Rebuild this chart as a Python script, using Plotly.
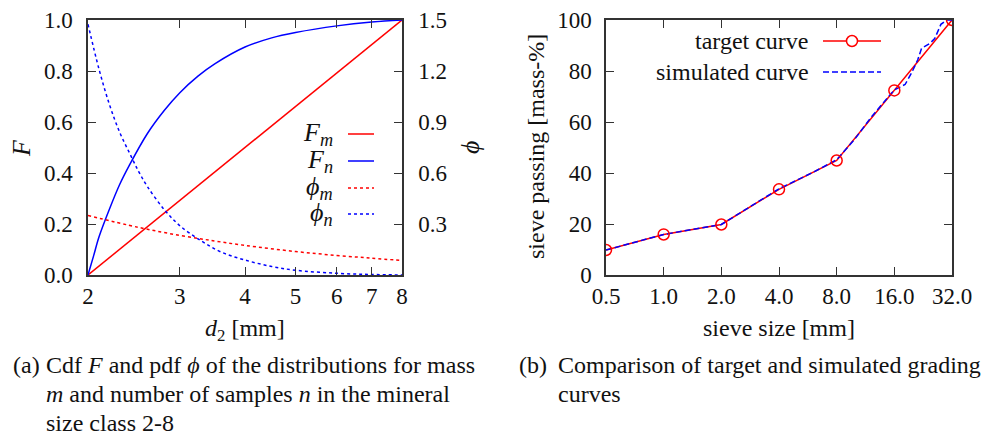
import plotly.graph_objects as go

# ---------------- data: panel (a) ----------------
d_Fm = [2, 3, 4, 5, 6, 7, 8]
F_m = [0.0, 0.2925, 0.5, 0.661, 0.792, 0.904, 1.0]

d_Fn = [2, 2.05, 2.1, 2.2, 2.3, 2.4, 2.6, 2.8, 3.0, 3.25, 3.5, 4.0, 4.5, 5.0, 6.0, 7.0, 8.0]
F_n = [0.0, 0.075, 0.15, 0.26, 0.355, 0.43, 0.555, 0.645, 0.715, 0.78, 0.828, 0.894, 0.93, 0.951, 0.977, 0.992, 1.0]

d_pm = [2, 2.5, 3, 3.5, 4, 5, 6, 7, 8]
phi_m = [0.35, 0.28, 0.233, 0.2, 0.174, 0.138, 0.115, 0.099, 0.085]

d_pn = [2, 2.1, 2.2, 2.3, 2.4, 2.5, 2.6, 2.8, 3.0, 3.3, 3.6, 4.0, 4.5, 5.0, 6.0, 7.0, 8.0]
phi_n = [1.475, 1.21, 1.0, 0.84, 0.72, 0.61, 0.52, 0.385, 0.29, 0.2, 0.135, 0.088, 0.05, 0.028, 0.01, 0.003, 0.0]

# ---------------- data: panel (b) ----------------
sieve_target = [0.5, 1, 2, 4, 8, 16, 32]
pass_target = [9.8, 15.9, 19.8, 33.6, 44.9, 72.4, 100]

sieve_sim = [0.5, 1, 2, 4, 6, 8, 10, 12, 14, 16, 17, 18.2, 19.7, 21.2, 22.2, 24.5, 26, 28, 30, 32]
pass_sim = [9.8, 15.9, 19.8, 33.8, 40.2, 45.2, 53.5, 61.5, 67.5, 72.6, 73.6, 74.7, 79.3, 84.4, 88.9, 90.8, 92.7, 98.3, 100, 100]

x_ticks_a = [2, 3, 4, 5, 6, 7, 8]
x_ticks_b = [0.5, 1, 2, 4, 8, 16, 32]
x_ticktext_b = ["0.5", "1.0", "2.0", "4.0", "8.0", "16.0", "32.0"]

RED = "#ff0000"
BLUE = "#0000ff"
FONT = "Liberation Serif"
AX = "#333333"
TXT = "#111111"

fig = go.Figure()

fig.add_trace(go.Scatter(x=d_Fm, y=F_m, mode="lines", line=dict(color=RED, width=1.5), xaxis="x", yaxis="y"))
fig.add_trace(go.Scatter(x=d_Fn, y=F_n, mode="lines", line=dict(color=BLUE, width=1.5, shape="spline"), xaxis="x", yaxis="y"))
fig.add_trace(go.Scatter(x=d_pm, y=phi_m, mode="lines", line=dict(color=RED, width=1.5, dash="3px,3px", shape="spline"), xaxis="x", yaxis="y2"))
fig.add_trace(go.Scatter(x=d_pn, y=phi_n, mode="lines", line=dict(color=BLUE, width=1.5, dash="3px,3px", shape="spline"), xaxis="x", yaxis="y2"))

fig.add_trace(go.Scatter(x=sieve_target, y=pass_target, mode="lines", line=dict(color=RED, width=1.5), xaxis="x2", yaxis="y3"))
fig.add_trace(go.Scatter(x=sieve_sim, y=pass_sim, mode="lines", line=dict(color=BLUE, width=1.5, dash="6px,3px"), xaxis="x2", yaxis="y3"))
fig.add_trace(go.Scatter(x=sieve_target, y=pass_target, mode="markers",
                         marker=dict(symbol="circle-open", size=11, color=RED, line=dict(width=1.5, color=RED)),
                         xaxis="x2", yaxis="y3"))

W, H = 993, 440
OFF = 8  # page body margin of the browser
def px(v): return (v - OFF) / W
def py(v): return 1 - (v - OFF) / H

TOP = 20
BOT = 275

ax_common = dict(showline=True, linecolor=AX, linewidth=1.5, ticks="inside", ticklen=8, tickwidth=1.2,
                 tickcolor=AX, showgrid=False, zeroline=False, automargin=False,
                 tickfont=dict(family=FONT, size=23, color=TXT))

fig.update_layout(
    template="none",
    width=W, height=H, margin=dict(l=0, r=0, t=0, b=0, pad=0),
    paper_bgcolor="white", plot_bgcolor="white", showlegend=False,
    xaxis=dict(domain=[px(88), px(402)], type="log", range=[0.30103, 0.90309], tickvals=x_ticks_a,
               ticktext=[str(v) for v in x_ticks_a], mirror="ticks", anchor="y", **ax_common),
    yaxis=dict(domain=[py(BOT), py(TOP)], range=[0, 1], tickvals=[0, 0.2, 0.4, 0.6, 0.8, 1.0],
               ticktext=["0.0", "0.2", "0.4", "0.6", "0.8", "1.0"], anchor="x", ticklabelstandoff=9,
               **ax_common),
    yaxis2=dict(domain=[py(BOT), py(TOP)], range=[0, 1.5], overlaying="y", side="right", anchor="x",
                tickvals=[0.3, 0.6, 0.9, 1.2, 1.5], ticktext=["0.3", "0.6", "0.9", "1.2", "1.5"],
                ticklabelstandoff=10, **ax_common),
    xaxis2=dict(domain=[px(606), px(952)], type="log", range=[-0.30103, 1.50515], tickvals=x_ticks_b,
                ticktext=x_ticktext_b, mirror="ticks", anchor="y3", **ax_common),
    yaxis3=dict(domain=[py(BOT), py(TOP)], range=[0, 100], tickvals=[0, 20, 40, 60, 80, 100],
                mirror="ticks", anchor="x2", ticklabelstandoff=8, **ax_common),
)

def ann(text, x, y, size=24, xanchor="center", yanchor="middle", angle=0, align="left"):
    fig.add_annotation(text=text, x=px(x), y=py(y), xref="paper", yref="paper", showarrow=False,
                       xanchor=xanchor, yanchor=yanchor, textangle=angle, align=align, borderpad=0,
                       font=dict(family=FONT, size=size, color=TXT))

# axis titles
ann("<i>F</i>", 22, 148, size=26, angle=-90)
ann("<i>ϕ</i>", 471, 148, size=26, angle=-90)
ann("<i>d</i><sub>2</sub> [mm]", 245, 330, size=24)
ann("sieve passing [mass-%]", 536, 147, size=24, angle=-90)
ann("sieve size [mm]", 779, 328, size=24)

# legend panel (a)
leg_a = [("<i>F<sub>m</sub></i>", RED, "solid", 134),
         ("<i>F<sub>n</sub></i>", BLUE, "solid", 161),
         ("<i>ϕ<sub>m</sub></i>", RED, "3px,3px", 188),
         ("<i>ϕ<sub>n</sub></i>", BLUE, "3px,3px", 214)]
for txt, col, dash, yy in leg_a:
    ann(txt, 334, yy, size=26, xanchor="right")
    fig.add_shape(type="line", xref="paper", yref="paper", x0=px(348), x1=px(374), y0=py(yy), y1=py(yy),
                  line=dict(color=col, width=1.5, dash=dash))

# legend panel (b)
ann("target curve", 810, 41, size=24, xanchor="right")
fig.add_shape(type="line", xref="paper", yref="paper", x0=px(823), x1=px(881), y0=py(41), y1=py(41),
              line=dict(color=RED, width=1.5))
fig.add_shape(type="circle", xref="paper", yref="paper", x0=px(852 - 5.5), x1=px(852 + 5.5),
              y0=py(41 + 5.5), y1=py(41 - 5.5), line=dict(color=RED, width=1.5), fillcolor="white")
ann("simulated curve", 810, 72, size=24, xanchor="right")
fig.add_shape(type="line", xref="paper", yref="paper", x0=px(823), x1=px(881), y0=py(72), y1=py(72),
              line=dict(color=BLUE, width=1.5, dash="6px,3px"))

# captions
ann("(a)", 12, 365, size=24, xanchor="left")
ann("Cdf <i>F</i> and pdf <i>ϕ</i> of the distributions for mass", 45, 365, size=24, xanchor="left")
ann("<i>m</i> and number of samples <i>n</i> in the mineral", 45, 394, size=24, xanchor="left")
ann("size class 2-8", 45, 423, size=24, xanchor="left")
ann("(b)", 518, 365, size=24, xanchor="left")
ann("Comparison of target and simulated grading", 557, 365, size=24, xanchor="left")
ann("curves", 557, 394, size=24, xanchor="left")

fig.write_html("out.html")
